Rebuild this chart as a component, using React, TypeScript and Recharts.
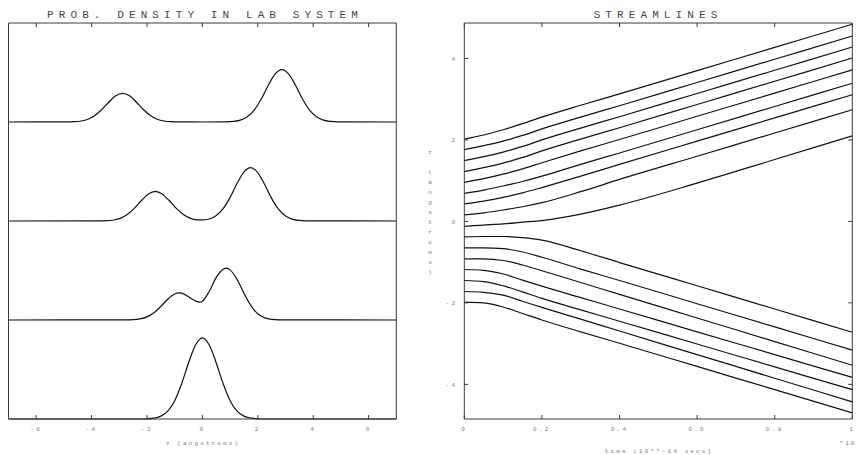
import { LineChart, Line, XAxis, YAxis } from "recharts";

const FONT = '"Liberation Mono", monospace';
const AXIS = "#3a3a3a";
const LABEL = "#7a7a7a";
const INK = "#111";

// left panel: probability density snapshots, z in angstroms
const zTicks = [-6, -4, -2, 0, 2, 4, 6];
const densityOffsets = [3, 2, 1, 0];

const zTop = [-7, -4.88, -4.63, -4.38, -4.13, -3.88, -3.63, -3.38, -3.13, -2.88, -2.63, -2.38, -2.13, -1.88, -1.63, -1.38, -1.13, -0.88, 0, 0.87, 1.12, 1.37, 1.62, 1.87, 2.12, 2.37, 2.62, 2.87, 3.12, 3.37, 3.62, 3.87, 4.12, 4.37, 4.62, 4.87, 7];
const pTop = [0, 0.001, 0.003, 0.01, 0.028, 0.066, 0.126, 0.2, 0.264, 0.29, 0.264, 0.2, 0.126, 0.066, 0.028, 0.01, 0.003, 0.001, 0, 0.001, 0.006, 0.019, 0.052, 0.12, 0.23, 0.366, 0.483, 0.53, 0.483, 0.366, 0.23, 0.12, 0.052, 0.019, 0.006, 0.001, 0];

const zSecond = [-7, -3.7, -3.45, -3.2, -2.95, -2.7, -2.45, -2.2, -1.95, -1.7, -1.45, -1.2, -0.95, -0.7, -0.45, -0.2, 0, 0.24, 0.49, 0.74, 0.99, 1.24, 1.49, 1.74, 1.99, 2.24, 2.49, 2.74, 2.99, 3.24, 3.49, 3.74, 7];
const pSecond = [0, 0.001, 0.003, 0.01, 0.029, 0.068, 0.13, 0.207, 0.273, 0.3, 0.273, 0.207, 0.13, 0.068, 0.029, 0.012, 0.011, 0.02, 0.053, 0.122, 0.234, 0.373, 0.492, 0.54, 0.492, 0.373, 0.234, 0.122, 0.053, 0.019, 0.006, 0.001, 0];

const zThird = [-7, -2.75, -2.5, -2.25, -2, -1.75, -1.5, -1.25, -1, -0.86, -0.75, -0.5, -0.25, -0.1, 0, 0.25, 0.5, 0.75, 0.87, 1, 1.25, 1.5, 1.75, 2, 2.25, 2.5, 2.75, 7];
const pThird = [0, 0.001, 0.003, 0.011, 0.032, 0.073, 0.137, 0.21, 0.263, 0.274, 0.272, 0.235, 0.192, 0.18, 0.19, 0.29, 0.43, 0.512, 0.525, 0.506, 0.41, 0.27, 0.145, 0.063, 0.022, 0.006, 0.001, 0];

const zInitial = [-7, -2.25, -2, -1.75, -1.5, -1.25, -1, -0.75, -0.5, -0.25, 0, 0.25, 0.5, 0.75, 1, 1.25, 1.5, 1.75, 2, 2.25, 7];
const pInitial = [0, 0, 0.002, 0.009, 0.029, 0.08, 0.185, 0.356, 0.566, 0.747, 0.82, 0.747, 0.566, 0.356, 0.185, 0.08, 0.029, 0.009, 0.002, 0, 0];

// right panel: streamlines z(t), t in units of 1e-14 s
const tTicks = [0, 0.2, 0.4, 0.6, 0.8, 1];
const zAxisTicks = [-4, -2, 0, 2, 4];
const tGrid = [0, 0.05, 0.1, 0.15, 0.2, 0.3, 0.4, 0.6, 0.8, 1];

const upperStreams = [
  [2.02, 2.12, 2.25, 2.4, 2.56, 2.85, 3.13, 3.7, 4.27, 4.84],
  [1.76, 1.86, 1.97, 2.11, 2.27, 2.56, 2.84, 3.41, 3.98, 4.55],
  [1.49, 1.59, 1.7, 1.84, 2.0, 2.29, 2.57, 3.14, 3.71, 4.28],
  [1.22, 1.32, 1.43, 1.57, 1.73, 2.02, 2.3, 2.87, 3.44, 4.01],
  [0.96, 1.05, 1.16, 1.29, 1.44, 1.73, 2.01, 2.58, 3.15, 3.72],
  [0.69, 0.77, 0.87, 0.98, 1.11, 1.4, 1.68, 2.25, 2.82, 3.39],
  [0.43, 0.5, 0.59, 0.7, 0.83, 1.11, 1.4, 1.97, 2.54, 3.11],
  [0.16, 0.21, 0.28, 0.36, 0.46, 0.73, 1.03, 1.6, 2.17, 2.74],
  [-0.12, -0.09, -0.06, -0.02, 0.02, 0.18, 0.4, 0.94, 1.52, 2.1],
];

const lowerStreams = [
  [-0.38, -0.37, -0.37, -0.4, -0.46, -0.72, -1.01, -1.58, -2.15, -2.72],
  [-0.65, -0.65, -0.67, -0.75, -0.88, -1.17, -1.45, -2.02, -2.59, -3.16],
  [-0.92, -0.92, -0.96, -1.07, -1.21, -1.5, -1.79, -2.37, -2.95, -3.53],
  [-1.18, -1.2, -1.29, -1.44, -1.59, -1.87, -2.15, -2.71, -3.27, -3.83],
  [-1.45, -1.48, -1.58, -1.73, -1.89, -2.17, -2.45, -3.01, -3.57, -4.13],
  [-1.72, -1.74, -1.81, -1.96, -2.11, -2.4, -2.69, -3.27, -3.85, -4.43],
  [-1.98, -2.0, -2.1, -2.26, -2.42, -2.71, -2.99, -3.56, -4.13, -4.7],
];

const densityCurves = [
  { z: zTop, p: pTop },
  { z: zSecond, p: pSecond },
  { z: zThird, p: pThird },
  { z: zInitial, p: pInitial },
].map((c, k) => c.z.map((z, i) => ({ z, y: densityOffsets[k] + c.p[i] })));

const streams = [...upperStreams, ...lowerStreams];
const streamRows = tGrid.map((t, i) => {
  const row: Record<string, number> = { t };
  streams.forEach((s, k) => {
    row["s" + k] = s[i];
  });
  return row;
});

const tickText = { fontSize: 6, fill: LABEL, fontFamily: FONT, letterSpacing: 2.3 };
const titleStyle: React.CSSProperties = {
  position: "absolute",
  transform: "translate(-50%, -50%)",
  fontFamily: FONT,
  fontSize: 11,
  letterSpacing: 5.1,
  color: "#444",
  whiteSpace: "pre",
  lineHeight: 1,
};
const smallStyle: React.CSSProperties = {
  position: "absolute",
  transform: "translate(-50%, -50%)",
  fontFamily: FONT,
  fontSize: 6,
  letterSpacing: 2.1,
  color: LABEL,
  whiteSpace: "pre",
  lineHeight: 1,
};

const yLabel = "z (angstroms)";

function DensityPanel() {
  return (
    <LineChart width={420} height={455} margin={{ top: 18, right: 22.7, bottom: 6, left: 7.5 }}>
      <XAxis
        xAxisId="b"
        type="number"
        dataKey="z"
        domain={[-7, 7]}
        ticks={zTicks}
        interval={0}
        tickSize={-4}
        tickMargin={12}
        height={30}
        allowDataOverflow
        axisLine={{ stroke: AXIS }}
        tickLine={{ stroke: AXIS }}
        tick={tickText}
      />
      <XAxis
        xAxisId="t"
        orientation="top"
        type="number"
        dataKey="z"
        domain={[-7, 7]}
        ticks={zTicks}
        interval={0}
        tickSize={-4}
        height={5}
        allowDataOverflow
        axisLine={{ stroke: AXIS }}
        tickLine={{ stroke: AXIS }}
        tickFormatter={() => ""}
      />
      <YAxis yAxisId="l" type="number" domain={[0, 4]} width={1} tick={false} tickLine={false} axisLine={{ stroke: AXIS }} />
      <YAxis yAxisId="r" orientation="right" type="number" domain={[0, 4]} width={1} tick={false} tickLine={false} axisLine={{ stroke: AXIS }} />
      {densityCurves.map((d, k) => (
        <Line
          key={k}
          data={d}
          xAxisId="b"
          yAxisId="l"
          dataKey="y"
          type="monotone"
          stroke={INK}
          strokeWidth={1.2}
          dot={false}
          isAnimationActive={false}
        />
      ))}
    </LineChart>
  );
}

function StreamPanel() {
  return (
    <LineChart width={442} height={455} data={streamRows} margin={{ top: 18, right: 8.7, bottom: 6, left: 14.3 }}>
      <XAxis
        xAxisId="b"
        type="number"
        dataKey="t"
        domain={[0, 1]}
        ticks={tTicks}
        interval={0}
        tickSize={-4}
        tickMargin={12}
        height={30}
        axisLine={{ stroke: AXIS }}
        tickLine={{ stroke: AXIS }}
        tick={tickText}
      />
      <XAxis
        xAxisId="t"
        orientation="top"
        type="number"
        dataKey="t"
        domain={[0, 1]}
        ticks={tTicks}
        interval={0}
        tickSize={-4}
        height={5}
        axisLine={{ stroke: AXIS }}
        tickLine={{ stroke: AXIS }}
        tickFormatter={() => ""}
      />
      <YAxis
        yAxisId="l"
        type="number"
        domain={[-4.85, 4.87]}
        ticks={zAxisTicks}
        interval={0}
        allowDataOverflow
        width={30}
        tickSize={-4}
        tickMargin={11}
        axisLine={{ stroke: AXIS }}
        tickLine={{ stroke: AXIS }}
        tick={tickText}
      />
      <YAxis
        yAxisId="r"
        orientation="right"
        type="number"
        domain={[-4.85, 4.87]}
        ticks={zAxisTicks}
        interval={0}
        allowDataOverflow
        width={1}
        tickSize={-4}
        axisLine={{ stroke: AXIS }}
        tickLine={{ stroke: AXIS }}
        tickFormatter={() => ""}
      />
      {streams.map((_, k) => (
        <Line
          key={k}
          xAxisId="b"
          yAxisId="l"
          dataKey={"s" + k}
          type="monotone"
          stroke={INK}
          strokeWidth={1.2}
          dot={false}
          isAnimationActive={false}
        />
      ))}
    </LineChart>
  );
}

export default function App() {
  return (
    <div style={{ position: "absolute", left: 0, top: 0, width: 862, height: 455, background: "#fff", overflow: "hidden" }}>
      <div style={{ position: "absolute", left: 0, top: 0 }}>
        <DensityPanel />
      </div>
      <div style={{ position: "absolute", left: 420, top: 0 }}>
        <StreamPanel />
      </div>
      <div style={{ ...titleStyle, left: 205, top: 15 }}>PROB. DENSITY IN LAB SYSTEM</div>
      <div style={{ ...titleStyle, left: 658, top: 15 }}>STREAMLINES</div>
      <div style={{ ...smallStyle, left: 203, top: 444 }}>z (angstroms)</div>
      <div style={{ ...smallStyle, left: 659, top: 452 }}>time (10**-14 secs)</div>
      <div style={{ ...smallStyle, left: 848, top: 444 }}>*10</div>
      <div
        style={{
          position: "absolute",
          left: 426,
          top: 148,
          width: 8,
          display: "flex",
          flexDirection: "column",
          alignItems: "center",
          fontFamily: FONT,
          fontSize: 6,
          lineHeight: "10px",
          color: LABEL,
        }}
      >
        {yLabel.split("").map((ch, i) => (
          <span key={i} style={{ height: 10, whiteSpace: "pre" }}>
            {ch}
          </span>
        ))}
      </div>
    </div>
  );
}
